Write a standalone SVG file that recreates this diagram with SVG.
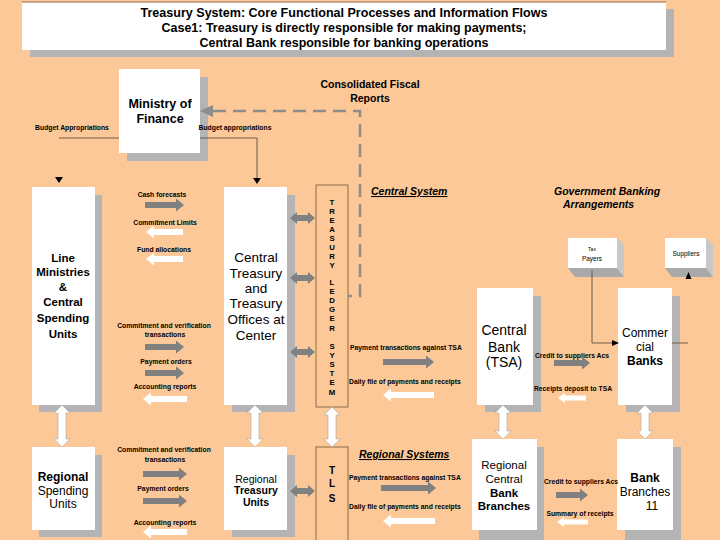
<svg xmlns="http://www.w3.org/2000/svg" width="720" height="540" viewBox="0 0 720 540">
<style>
text{font-family:"Liberation Sans",Arial,sans-serif;fill:#000}
.t{font-weight:bold;font-size:12.5px}
.lbl{font-weight:bold;font-size:6.8px;text-anchor:middle}
.lbs{font-weight:bold;font-size:6.8px}
.box{fill:#fff}
.sh{fill:#b4b4b4}
.c{text-anchor:middle}
.ga{fill:#808080}
.wa{fill:#fff}
.wv{fill:#fff;stroke:#a8a8a8;stroke-width:0.6}
.ln{fill:none;stroke:#6e5a48;stroke-width:1}
.ol{fill:none;stroke:#8b6a4a;stroke-width:1}
.hd{fill:#000}
.sec{font-weight:bold;font-style:italic;font-size:10.5px}
.lt{font-weight:bold;font-size:7.8px;text-anchor:middle}
</style>
<rect width="720" height="540" fill="#fcc897"/>

<g id="title">
<rect x="30" y="9" width="644" height="48" class="sh"/>
<rect x="22" y="2" width="644" height="48" class="box"/>
<line x1="22" y1="2" x2="666" y2="2" stroke="#8b6a4a" stroke-width="1"/>
<text x="344" y="17" class="t c" textLength="407" lengthAdjust="spacingAndGlyphs">Treasury System: Core Functional Processes and Information Flows</text>
<text x="344" y="32" class="t c" textLength="365" lengthAdjust="spacingAndGlyphs">Case1: Treasury is directly responsible for making payments;</text>
<text x="344" y="47" class="t c" textLength="289" lengthAdjust="spacingAndGlyphs">Central Bank responsible for banking operations</text>
</g>

<g id="ministry">
<rect x="127" y="77" width="81" height="84" class="sh"/>
<rect x="119" y="69" width="81" height="84" class="box"/>
<text x="160" y="107.5" class="c" font-weight="bold" font-size="12.5">Ministry of</text>
<text x="160" y="122.5" class="c" font-weight="bold" font-size="12.5">Finance</text>
</g>

<g id="line-ministries">
<rect x="39" y="195" width="63" height="217" class="sh"/>
<rect x="32" y="187" width="63" height="218" class="box"/>
<g class="c" font-weight="bold" font-size="11.5">
<text x="63" y="261.5">Line</text>
<text x="63" y="275.5">Ministries</text>
<text x="63" y="291">&amp;</text>
<text x="63" y="306">Central</text>
<text x="63" y="322">Spending</text>
<text x="63" y="337.5">Units</text>
</g>
</g>

<g id="central-treasury">
<rect x="232" y="195" width="63" height="217" class="sh"/>
<rect x="224" y="187" width="63" height="218" class="box"/>
<g class="c" font-size="13.5">
<text x="256" y="262">Central</text>
<text x="256" y="277.5">Treasury</text>
<text x="256" y="292.5">and</text>
<text x="256" y="308">Treasury</text>
<text x="256" y="324">Offices at</text>
<text x="256" y="339.5">Center</text>
</g>
</g>

<g id="ledger">
<rect x="316" y="185" width="32" height="222" class="ol"/>
<text x="332" y="205" class="lt">T</text>
<text x="332" y="214" class="lt">R</text>
<text x="332" y="223" class="lt">E</text>
<text x="332" y="232" class="lt">A</text>
<text x="332" y="241" class="lt">S</text>
<text x="332" y="250" class="lt">U</text>
<text x="332" y="259" class="lt">R</text>
<text x="332" y="268" class="lt">Y</text>
<text x="332" y="284.5" class="lt">L</text>
<text x="332" y="293.5" class="lt">E</text>
<text x="332" y="302.5" class="lt">D</text>
<text x="332" y="312" class="lt">G</text>
<text x="332" y="321" class="lt">E</text>
<text x="332" y="330.5" class="lt">R</text>
<text x="332" y="348.5" class="lt">S</text>
<text x="332" y="357.5" class="lt">Y</text>
<text x="332" y="367" class="lt">S</text>
<text x="332" y="376" class="lt">T</text>
<text x="332" y="385" class="lt">E</text>
<text x="332" y="394.5" class="lt">M</text>
</g>

<g id="central-bank">
<rect x="485" y="296" width="56" height="116" class="sh"/>
<rect x="477" y="288" width="56" height="117" class="box"/>
<g class="c" font-size="14">
<text x="504" y="335">Central</text>
<text x="504" y="352">Bank</text>
<text x="504" y="367">(TSA)</text>
</g>
</g>

<g id="commercial-banks">
<rect x="626" y="296" width="54" height="116" class="sh"/>
<rect x="618" y="288" width="54" height="117" class="box"/>
<g class="c" font-size="12">
<text x="645" y="337">Commer</text>
<text x="645" y="351">cial</text>
<text x="645" y="364.5" font-weight="bold">Banks</text>
</g>
</g>

<g id="payers">
<rect x="568" y="238" width="49" height="30" class="box"/>
<path d="M617 238 L624 245 V277 L617 268 Z" fill="#c8c8c8"/>
<path d="M568 268 H617 L624 277 H575 Z" fill="#a9a9a9"/>
<text x="592" y="251" class="c" font-size="5">Tax</text>
<text x="592" y="261" class="c" font-size="6.5">Payers</text>
</g>

<g id="suppliers">
<rect x="665" y="238" width="41" height="30" class="box"/>
<path d="M706 238 L713 245 V277 L706 268 Z" fill="#c8c8c8"/>
<path d="M665 268 H706 L713 277 H672 Z" fill="#a9a9a9"/>
<text x="686" y="256" class="c" font-size="6.5">Suppliers</text>
</g>

<g id="regional-spending">
<rect x="39" y="455" width="63" height="82" class="sh"/>
<rect x="32" y="447" width="63" height="83" class="box"/>
<g class="c" font-size="12">
<text x="63" y="481" font-weight="bold">Regional</text>
<text x="63" y="495">Spending</text>
<text x="63" y="507.5">Units</text>
</g>
</g>

<g id="regional-treasury">
<rect x="232" y="455" width="63" height="82" class="sh"/>
<rect x="224" y="447" width="63" height="83" class="box"/>
<g class="c" font-size="10.5">
<text x="256" y="482.5">Regional</text>
<text x="256" y="494" font-weight="bold">Treasury</text>
<text x="256" y="505.5" font-weight="bold">Units</text>
</g>
</g>

<g id="tls">
<rect x="316" y="447" width="32" height="100" class="ol"/>
<text x="332" y="473.5" class="c" font-weight="bold" font-size="10">T</text>
<text x="332" y="487" class="c" font-weight="bold" font-size="10">L</text>
<text x="332" y="501.5" class="c" font-weight="bold" font-size="10">S</text>
</g>

<g id="regional-central-bank">
<rect x="479" y="447" width="65" height="93" class="sh"/>
<rect x="472" y="439" width="65" height="91" class="box"/>
<g class="c" font-size="11.5">
<text x="504" y="469">Regional</text>
<text x="504" y="483">Central</text>
<text x="504" y="496.5" font-weight="bold">Bank</text>
<text x="504" y="510" font-weight="bold">Branches</text>
</g>
</g>

<g id="bank-branches">
<rect x="625" y="447" width="56" height="93" class="sh"/>
<rect x="617" y="439" width="56" height="91" class="box"/>
<g class="c" font-size="12">
<text x="645" y="481.5" font-weight="bold">Bank</text>
<text x="645" y="495.5">Branches</text>
</g>
<text x="652" y="510" class="c" font-family="'Liberation Serif',serif" font-size="12">11</text>
</g>

<g id="section-labels">
<text x="370" y="88" class="c" font-weight="bold" font-size="10.5">Consolidated Fiscal</text>
<text x="370" y="102" class="c" font-weight="bold" font-size="10.5">Reports</text>
<text x="371" y="195" class="sec" text-decoration="underline">Central System</text>
<text x="554" y="194.5" class="sec" font-size="10">Government Banking</text>
<text x="563" y="208" class="sec" font-size="10">Arrangements</text>
<text x="359" y="458" class="sec" font-size="11" text-decoration="underline">Regional Systems</text>
</g>

<g id="connectors">
<path d="M119 138 H59" class="ln"/>
<path d="M55 177 H63 L59 183 Z" class="hd"/>
<path d="M200 138 H257 V179" class="ln"/>
<path d="M253 178 H261 L257 184 Z" class="hd"/>
<text x="72" y="129.5" class="lbl">Budget Appropriations</text>
<text x="235" y="129.5" class="lbl">Budget appropriations</text>
<path d="M213 111 H360 V296 H348" fill="none" stroke="#8c8c8c" stroke-width="2.5" stroke-dasharray="13 7"/>
<path d="M200 111 L213 105 V117 Z" fill="#8c8c8c"/>

<text x="162" y="197" class="lbl">Cash forecasts</text>
<path d="M145 202 H176 V198.5 L184 205 L176 211.5 V208 H145 Z" class="ga"/>
<text x="165" y="225" class="lbl">Commitment  Limits</text>
<path d="M183 229 H154 V225.5 L146 232 L154 238.5 V235 H183 Z" class="wa"/>
<text x="164" y="252" class="lbl">Fund allocations</text>
<path d="M183 256 H154 V252.5 L146 259 L154 265.5 V262 H183 Z" class="wa"/>
<text x="164" y="328" class="lbl">Commitment and verification</text>
<text x="165" y="337" class="lbl">transactions</text>
<path d="M145 344 H176 V340.5 L184 347 L176 353.5 V350 H145 Z" class="ga"/>
<text x="166" y="364" class="lbl">Payment orders</text>
<path d="M145 370 H176 V366.5 L184 373 L176 379.5 V376 H145 Z" class="ga"/>
<text x="165" y="389" class="lbl">Accounting reports</text>
<path d="M187 396 H151 V392.5 L143 399 L151 405.5 V402 H187 Z" class="wa"/>

<path d="M290 218 L297 212 V215 H308 V212 L315 218 L308 224 V221 H297 V224 Z" class="ga"/>
<path d="M290 278 L297 272 V275 H308 V272 L315 278 L308 284 V281 H297 V284 Z" class="ga"/>
<path d="M290 352 L297 346 V349 H308 V346 L315 352 L308 358 V355 H297 V358 Z" class="ga"/>

<text x="350" y="349.5" class="lbs">Payment transactions against TSA</text>
<path d="M383 359 H426 V355.5 L434 362 L426 368.5 V365 H383 Z" class="ga"/>
<text x="349" y="384" class="lbs">Daily file of payments and receipts</text>
<path d="M434 392 H391 V388.5 L383 395 L391 401.5 V398 H434 Z" class="wa"/>

<text x="572" y="357.5" class="lbl">Credit to suppliers Acs</text>
<path d="M554 360 H582 V356.5 L590 363 L582 369.5 V366 H554 Z" class="ga"/>
<text x="573" y="390.5" class="lbl">Receipts deposit to TSA</text>
<path d="M586 395.5 H565 V393 L558 398 L565 403 V400.5 H586 Z" class="wa"/>

<path d="M592 270 V343 H614" class="ln"/>
<path d="M612 340 L619 343 L612 346 Z" class="hd"/>
<path d="M672 343 H688" class="ln"/>
<path d="M685.5 279 L688.5 272 L691.5 279 Z" class="hd"/>

<path d="M62 405 L70 413 H66 V439 H70 L62 447 L54 439 H58 V413 H54 Z" class="wv"/>
<path d="M255 405 L263 413 H259 V439 H263 L255 447 L247 439 H251 V413 H247 Z" class="wv"/>
<path d="M332 407 L340 415 H336 V439 H340 L332 447 L324 439 H328 V415 H324 Z" class="wv"/>
<path d="M503 405 L511 413 H507 V431 H511 L503 439 L495 431 H499 V413 H495 Z" class="wv"/>
<path d="M645 405 L653 413 H649 V431 H653 L645 439 L637 431 H641 V413 H637 Z" class="wv"/>

<text x="164" y="452" class="lbl">Commitment and verification</text>
<text x="165" y="461.5" class="lbl">transactions</text>
<path d="M143 471 H179 V467.5 L187 474 L179 480.5 V477 H143 Z" class="ga"/>
<text x="163" y="490.5" class="lbl">Payment orders</text>
<path d="M143 498 H179 V494.5 L187 501 L179 507.5 V504 H143 Z" class="ga"/>
<text x="165" y="524.5" class="lbl">Accounting reports</text>
<path d="M187 529 H151 V525.5 L143 532 L151 538.5 V535 H187 Z" class="wa"/>

<path d="M290 491 L297 485 V488 H308 V485 L315 491 L308 497 V494 H297 V497 Z" class="ga"/>

<text x="349" y="479.5" class="lbs">Payment transactions against TSA</text>
<path d="M381 485 H428 V481.5 L436 488 L428 494.5 V491 H381 Z" class="ga"/>
<text x="349" y="508.5" class="lbs">Daily file of payments and receipts</text>
<path d="M435 518 H391 V514.5 L383 521 L391 527.5 V524 H435 Z" class="wa"/>

<text x="581" y="483.5" class="lbl">Credit to suppliers Acs</text>
<path d="M556 492 H580 V488.5 L588 495 L580 501.5 V498 H556 Z" class="ga"/>
<text x="580" y="515.5" class="lbl">Summary of receipts</text>
<path d="M588 519.5 H564 V517 L557 522 L564 527 V524.5 H588 Z" class="wa"/>
</g>
</svg>
